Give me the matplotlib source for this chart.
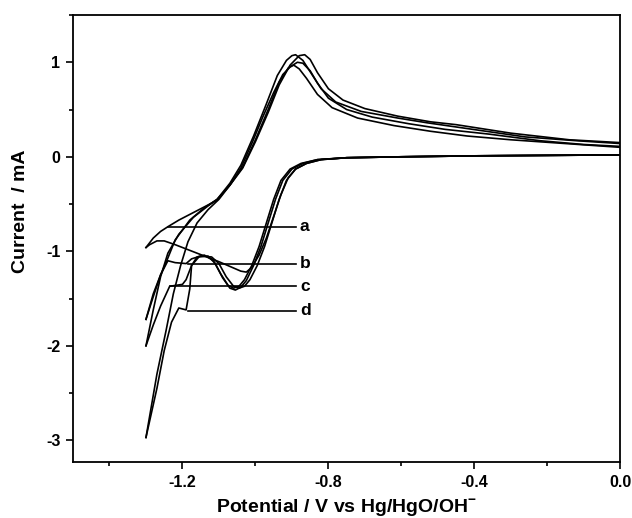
import matplotlib
matplotlib.use("Agg")
import matplotlib.pyplot as plt
from matplotlib.ticker import MultipleLocator

plt.rcParams['font.family'] = ['Liberation Sans', 'DejaVu Sans']
plt.rcParams['font.weight'] = 'bold'
plt.rcParams['mathtext.fontset'] = 'custom'
plt.rcParams['mathtext.rm'] = 'Liberation Sans:bold'
plt.rcParams['mathtext.bf'] = 'Liberation Sans:bold'

# ---------------- data (potential in V, current in mA) ----------------
a_fwd_v = [0.0, -0.2, -0.4, -0.6, -0.75, -0.82, -0.86, -0.89, -0.91, -0.93, -0.95, -0.97,
           -0.99, -1.01, -1.025, -1.04, -1.07, -1.10, -1.14, -1.18, -1.22, -1.25, -1.27, -1.29, -1.30]
a_fwd_i = [0.02, 0.015, 0.01, 0.0, -0.01, -0.03, -0.07, -0.13, -0.22, -0.40, -0.63, -0.86,
           -1.04, -1.17, -1.22, -1.21, -1.16, -1.11, -1.05, -0.99, -0.93, -0.89, -0.89, -0.93, -0.96]
a_rev_v = [-1.30, -1.28, -1.26, -1.24, -1.21, -1.17, -1.13, -1.105, -1.07, -1.04, -1.01, -0.98,
           -0.95, -0.925, -0.905, -0.895, -0.88, -0.86, -0.83, -0.79, -0.72, -0.62, -0.52, -0.42,
           -0.30, -0.15, 0.0]
a_rev_i = [-0.96, -0.86, -0.79, -0.74, -0.67, -0.59, -0.51, -0.46, -0.30, -0.12, 0.14, 0.42,
           0.68, 0.87, 0.95, 0.97, 0.93, 0.83, 0.66, 0.52, 0.41, 0.33, 0.27, 0.22,
           0.18, 0.14, 0.10]

b_fwd_v = [0.0, -0.2, -0.4, -0.6, -0.75, -0.82, -0.86, -0.89, -0.915, -0.935, -0.955, -0.975,
           -0.995, -1.015, -1.03, -1.045, -1.06, -1.08, -1.10, -1.12, -1.15, -1.175, -1.19,
           -1.22, -1.24, -1.26, -1.28, -1.30]
b_fwd_i = [0.02, 0.015, 0.01, 0.0, -0.01, -0.03, -0.07, -0.13, -0.25, -0.45, -0.70, -0.95,
           -1.15, -1.30, -1.37, -1.39, -1.37, -1.27, -1.13, -1.06, -1.05, -1.08, -1.13,
           -1.12, -1.10, -1.25, -1.48, -1.72]
b_rev_v = [-1.30, -1.28, -1.26, -1.243, -1.22, -1.18, -1.14, -1.105, -1.07, -1.04, -1.005,
           -0.97, -0.94, -0.915, -0.90, -0.89, -0.87, -0.85, -0.82, -0.78, -0.71, -0.61,
           -0.53, -0.44, -0.26, -0.12, 0.0]
b_rev_i = [-1.72, -1.45, -1.25, -1.10, -0.88, -0.67, -0.54, -0.45, -0.28, -0.09, 0.22,
           0.56, 0.86, 1.02, 1.07, 1.08, 1.02, 0.90, 0.72, 0.58, 0.48, 0.41,
           0.36, 0.31, 0.21, 0.17, 0.14]

c_fwd_v = [0.0, -0.2, -0.4, -0.6, -0.75, -0.83, -0.87, -0.90, -0.925, -0.945, -0.965, -0.985,
           -1.005, -1.025, -1.04, -1.055, -1.07, -1.09, -1.11, -1.13, -1.155, -1.175, -1.19,
           -1.20, -1.235, -1.26, -1.28, -1.30]
c_fwd_i = [0.02, 0.015, 0.01, 0.0, -0.01, -0.03, -0.07, -0.13, -0.25, -0.45, -0.70, -0.95,
           -1.15, -1.31, -1.38, -1.41, -1.39, -1.28, -1.13, -1.05, -1.06, -1.15, -1.30,
           -1.35, -1.37, -1.58, -1.78, -2.00]
c_rev_v = [-1.30, -1.28, -1.26, -1.24, -1.21, -1.17, -1.13, -1.105, -1.07, -1.035, -1.0,
           -0.965, -0.935, -0.91, -0.885, -0.87, -0.85, -0.83, -0.80, -0.75, -0.68, -0.58,
           -0.48, -0.36, -0.22, -0.10, 0.0]
c_rev_i = [-2.00, -1.62, -1.27, -1.02, -0.82, -0.64, -0.52, -0.45, -0.30, -0.11, 0.18,
           0.50, 0.79, 0.94, 1.00, 0.99, 0.91, 0.78, 0.62, 0.50, 0.42, 0.35,
           0.29, 0.24, 0.17, 0.13, 0.11]

d_fwd_v = [0.0, -0.2, -0.4, -0.6, -0.75, -0.83, -0.875, -0.905, -0.93, -0.95, -0.97, -0.99,
           -1.01, -1.03, -1.045, -1.06, -1.075, -1.095, -1.115, -1.14, -1.16, -1.175, -1.18,
           -1.19, -1.21, -1.23, -1.25, -1.27, -1.30]
d_fwd_i = [0.02, 0.015, 0.01, 0.0, -0.01, -0.03, -0.07, -0.13, -0.25, -0.45, -0.70, -0.95,
           -1.15, -1.30, -1.37, -1.39, -1.36, -1.24, -1.10, -1.04, -1.06, -1.15, -1.40,
           -1.62, -1.60, -1.75, -2.05, -2.45, -2.97]
d_rev_v = [-1.30, -1.27, -1.245, -1.225, -1.205, -1.185, -1.16, -1.13, -1.10, -1.07, -1.035,
           -1.0, -0.965, -0.935, -0.905, -0.88, -0.865, -0.85, -0.83, -0.80, -0.76, -0.70,
           -0.61, -0.52, -0.45, -0.30, -0.14, 0.0]
d_rev_i = [-2.97, -2.30, -1.84, -1.45, -1.15, -0.90, -0.70, -0.56, -0.45, -0.30, -0.12,
           0.16, 0.47, 0.76, 0.97, 1.07, 1.08, 1.03, 0.89, 0.72, 0.60, 0.51,
           0.43, 0.37, 0.34, 0.25, 0.18, 0.15]

labels = ['a', 'b', 'c', 'd']
label_start_v = [-1.24, -1.186, -1.235, -1.186]
label_i = [-0.74, -1.13, -1.37, -1.63]
label_end_v = -0.89

x_ticks = [-1.2, -0.8, -0.4, 0.0]
x_ticklabels = ['-1.2', '-0.8', '-0.4', '0.0']
y_ticks = [-3, -2, -1, 0, 1]
y_ticklabels = ['-3', '-2', '-1', '0', '1']

# ---------------- plot ----------------
fig = plt.figure(figsize=(6.32, 5.18), dpi=100)
ax = fig.add_axes([0.1155, 0.108, 0.866, 0.863])

curves = [(a_fwd_v, a_fwd_i, a_rev_v, a_rev_i),
          (b_fwd_v, b_fwd_i, b_rev_v, b_rev_i),
          (c_fwd_v, c_fwd_i, c_rev_v, c_rev_i),
          (d_fwd_v, d_fwd_i, d_rev_v, d_rev_i)]
for fv, fi, rv, ri in curves:
    ax.plot(fv, fi, color='black', lw=1.2, solid_joinstyle='round')
    ax.plot(rv, ri, color='black', lw=1.2, solid_joinstyle='round')

for lab, sv, li in zip(labels, label_start_v, label_i):
    ax.plot([sv, label_end_v], [li, li], color='black', lw=1.2)
    ax.text(label_end_v + 0.012, li, lab, fontsize=12.5, fontweight='bold',
            va='center', ha='left')

ax.set_xlim(-1.5, 0.0)
ax.set_ylim(-3.23, 1.5)
ax.set_xticks(x_ticks)
ax.set_xticklabels(x_ticklabels)
ax.set_yticks(y_ticks)
ax.set_yticklabels(y_ticklabels)
ax.xaxis.set_minor_locator(MultipleLocator(0.2))
ax.yaxis.set_minor_locator(MultipleLocator(0.5))
ax.tick_params(axis='both', which='major', direction='out', length=5, width=1.2,
               labelsize=11.5, pad=4)
ax.tick_params(axis='both', which='minor', direction='out', length=3, width=1.2)
ax.tick_params(top=False, right=False, which='both')
for lbl in ax.get_xticklabels() + ax.get_yticklabels():
    lbl.set_fontweight('bold')
for s in ax.spines.values():
    s.set_linewidth(1.3)

ax.set_xlabel(r'Potential / V vs Hg/HgO/OH$^{-}$', fontsize=14, fontweight='bold', labelpad=6)
ax.set_ylabel('Current  / mA', fontsize=14, fontweight='bold')
ax.yaxis.set_label_coords(-0.08, 0.56)

fig.savefig('out.png', dpi=100)
